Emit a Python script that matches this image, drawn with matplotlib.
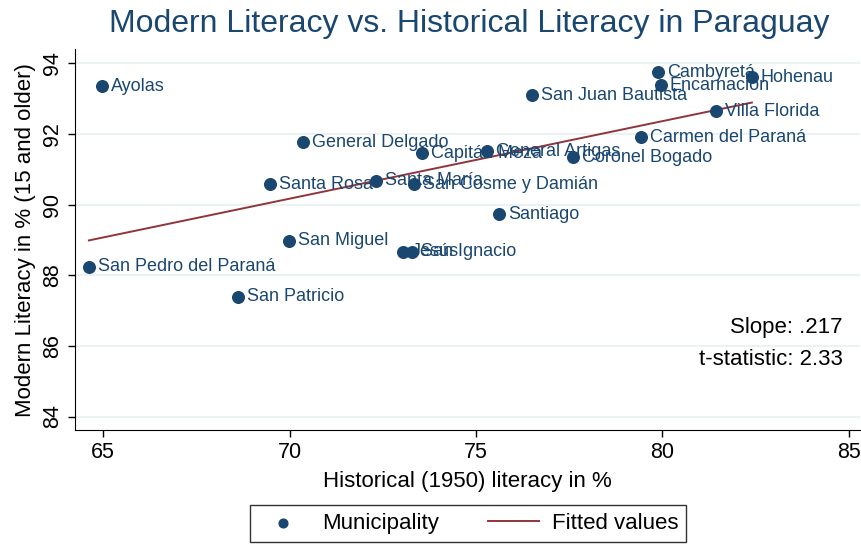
import numpy as np
import matplotlib
matplotlib.use("Agg")
import matplotlib.pyplot as plt

plt.rcParams['font.family'] = ['Liberation Sans', 'DejaVu Sans']

# municipality data
names = ["Ayolas", "Cambyretá", "Hohenau", "Encarnación", "San Juan Bautista",
         "Villa Florida", "Carmen del Paraná", "General Delgado", "Capitán Meza",
         "General Artigas", "Coronel Bogado", "Santa Rosa", "Santa María",
         "San Cosme y Damián", "Santiago", "San Miguel", "Jesús", "San Ignacio",
         "San Pedro del Paraná", "San Patricio"]
hist = [64.97, 79.88, 82.40, 79.96, 76.50, 81.43, 79.42, 70.36, 73.55, 75.29,
        77.60, 69.48, 72.32, 73.34, 75.62, 69.99, 73.04, 73.28, 64.62, 68.62]
modern = [93.35, 93.75, 93.60, 93.38, 93.10, 92.64, 91.91, 91.77, 91.46, 91.51,
          91.34, 90.58, 90.67, 90.58, 89.73, 88.97, 88.66, 88.66, 88.24, 87.39]
slope_txt = "Slope: .217"
tstat_txt = "t-statistic: 2.33"

navy = "#1a476f"
maroon = "#90353b"

x = np.array(hist)
y = np.array(modern)
b, a = np.polyfit(x, y, 1)
xs = np.sort(x)

fig = plt.figure(figsize=(8.62, 5.47), dpi=100)
ax = fig.add_axes([0.0867, 0.214, 0.911, 0.696])

for v in [84, 86, 88, 90, 92, 94]:
    ax.axhline(v, color="#eaf2f3", lw=1.5, zorder=0)

ax.scatter(x, y, s=70, color=navy, zorder=3, label="Municipality")
ax.plot(xs, a + b * xs, color=maroon, lw=1.4, zorder=2, label="Fitted values")
for n, xi, yi in zip(names, x, y):
    ax.annotate(n, (xi, yi), xytext=(6.5, 0), textcoords="offset points",
                va="center", ha="left", fontsize=13, color=navy, zorder=4)

ax.set_xlim(64.24, 85.3)
ax.set_ylim(83.62, 94.4)
ax.set_xticks([65, 70, 75, 80, 85])
ax.set_yticks([84, 86, 88, 90, 92, 94])
ax.tick_params(axis="both", labelsize=15.5, length=5, direction="out", width=1)
for lab in ax.get_yticklabels():
    lab.set_rotation(90)
    lab.set_va("center")
ax.spines["top"].set_visible(False)
ax.spines["right"].set_visible(False)

ax.set_xlabel("Historical (1950) literacy in %", fontsize=16, labelpad=6)
ax.set_ylabel("Modern Literacy in % (15 and older)", fontsize=16, labelpad=4)
fig.text(0.544, 0.956, "Modern Literacy vs. Historical Literacy in Paraguay",
         fontsize=23, color=navy, ha="center", va="center")

ax.text(0.978, 0.27, slope_txt, transform=ax.transAxes, ha="right",
        va="center", fontsize=16)
ax.text(0.978, 0.184, tstat_txt, transform=ax.transAxes, ha="right",
        va="center", fontsize=16)

leg = fig.legend(loc="upper center", bbox_to_anchor=(0.543, 1 - 505 / 547),
                 ncol=2, fontsize=16, frameon=True, fancybox=False,
                 edgecolor="black", handlelength=2.3, handletextpad=0.6,
                 columnspacing=2.2, markerscale=0.75, borderpad=0.35,
                 borderaxespad=0)
leg.get_frame().set_linewidth(1)

fig.savefig("out.png", dpi=100)
